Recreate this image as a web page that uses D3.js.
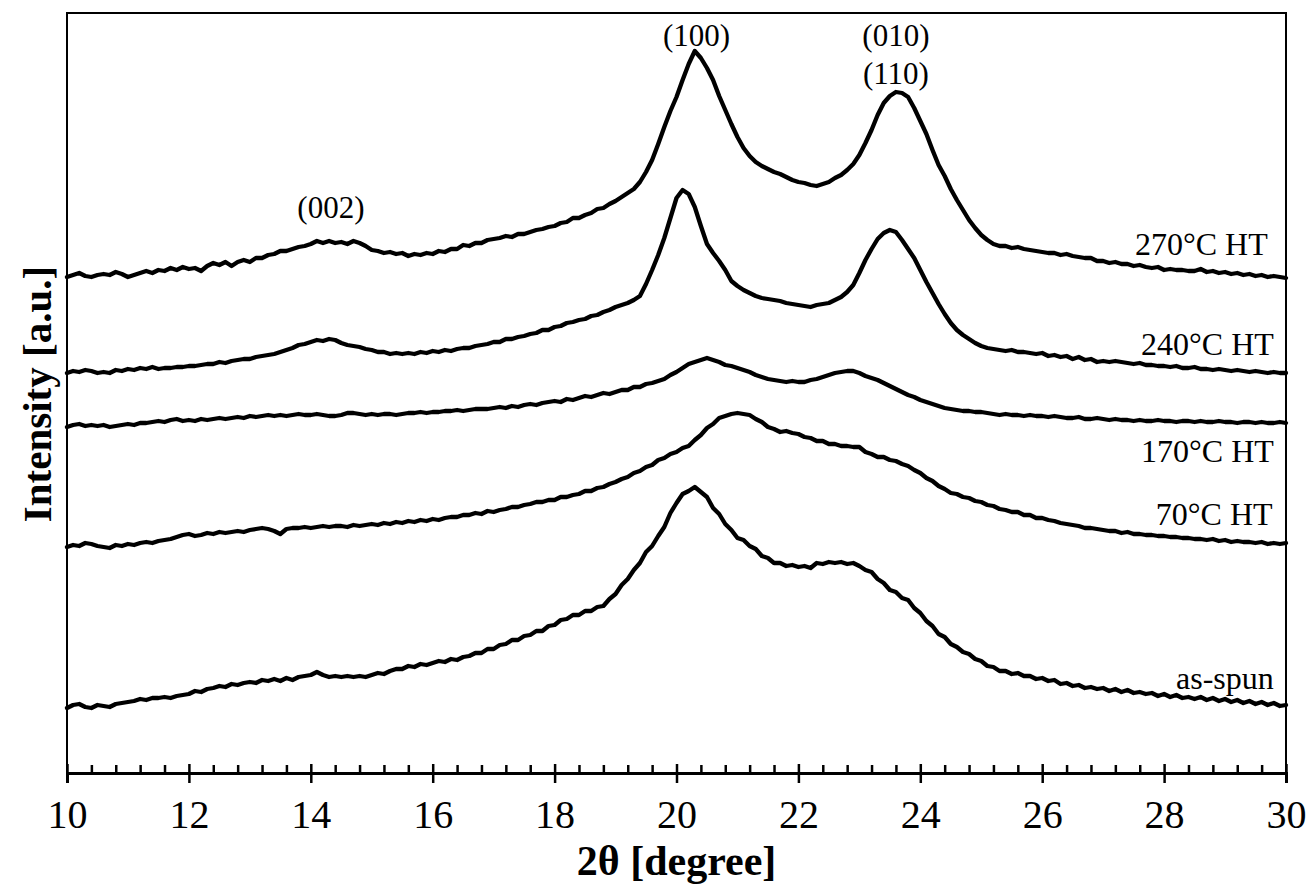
<!DOCTYPE html>
<html>
<head>
<meta charset="utf-8">
<script src="https://cdn.jsdelivr.net/npm/d3@7"></script>
<style>
  html, body { margin: 0; padding: 0; background: #fff; }
  svg { display: block; }
  text { font-family: 'Liberation Serif', 'Times New Roman', serif; fill: #000; }
</style>
</head>
<body>
<div id="chart"></div>
<script>
// 2-theta scan grid (degrees)
const angleStart = 10;
const angleStep = 0.1;

// Intensity [a.u.], curves already stacked, one value per 0.1 degree from 10 to 30
const asSpun = [
  65,68,69,66,65,68,67,66,69,70,
  71,72,74,73,75,75,76,75,77,78,
  79,82,81,84,85,87,86,89,88,90,
  91,90,93,92,94,92,95,93,96,97,
  98,101,98,96,97,96,97,96,97,96,
  98,100,99,102,104,104,107,106,109,108,
  110,112,111,114,113,116,117,120,120,124,
  124,128,129,133,133,137,138,142,142,147,
  148,153,154,158,158,162,162,166,167,174,
  179,188,194,203,210,221,227,237,246,260,
  270,279,282,286,281,276,265,259,249,243,
  235,233,227,224,217,215,210,210,207,208,
  206,207,205,210,209,211,210,211,209,210,
  207,203,201,194,190,183,181,175,173,165,
  160,152,147,139,136,129,126,121,119,114,
  112,107,106,102,102,99,100,97,97,94,
  95,92,93,89,90,87,88,85,86,84,
  85,82,84,81,83,80,81,79,80,77,
  79,76,78,75,76,74,76,73,75,72,
  74,71,73,70,72,69,71,68,70,67,
  68
];

const ht70 = [
  226,228,227,230,229,227,226,225,228,227,
  229,228,230,231,230,232,233,234,236,238,
  239,237,238,240,239,241,240,241,242,241,
  243,244,245,244,242,239,244,245,245,246,
  245,246,247,246,247,247,246,248,247,248,
  249,248,250,249,251,250,252,251,253,252,
  254,253,255,256,256,258,258,260,259,262,
  261,263,264,266,266,268,269,271,271,273,
  273,276,276,278,279,282,282,285,286,289,
  291,294,296,300,302,306,308,313,315,319,
  321,325,327,333,338,345,349,355,357,359,
  360,359,358,354,351,346,344,341,342,340,
  339,336,335,332,332,329,329,327,327,326,
  326,321,319,316,316,313,312,309,307,303,
  300,295,292,287,284,280,279,276,275,272,
  271,268,267,264,263,261,261,258,258,255,
  255,253,252,250,249,248,247,245,245,244,
  243,242,242,240,241,239,239,238,238,237,
  237,236,236,235,235,234,234,233,234,232,
  233,231,232,231,231,230,231,229,230,229,
  230
];

const ht170 = [
  346,348,349,347,348,347,348,346,347,348,
  349,348,350,350,351,352,351,353,354,352,
  353,352,354,353,354,355,354,355,356,355,
  357,356,357,358,357,358,357,358,359,358,
  358,359,358,357,357,358,360,360,359,358,
  359,358,359,359,358,359,360,360,361,360,
  361,361,362,362,363,362,363,364,364,364,
  365,366,365,367,366,368,369,368,370,371,
  372,371,374,373,375,377,376,378,380,379,
  381,383,383,386,386,389,390,392,394,398,
  401,405,409,411,413,415,413,411,408,407,
  405,403,401,398,396,394,393,392,391,392,
  391,391,393,394,396,398,400,401,402,402,
  400,397,395,393,390,387,384,381,378,376,
  373,371,369,367,365,364,363,362,362,361,
  361,360,359,358,359,358,358,357,358,357,
  357,356,357,356,355,355,356,354,354,355,
  354,353,354,353,353,352,353,352,352,353,
  352,352,351,352,352,351,352,351,351,352,
  351,351,350,351,351,350,351,350,350,351,
  350
];

const ht240 = [
  400,402,401,403,402,400,401,400,403,402,
  404,403,405,404,406,404,405,405,406,406,
  407,407,408,409,409,411,410,412,413,414,
  414,416,417,418,419,421,423,425,428,429,
  431,433,432,434,433,430,428,427,426,424,
  423,421,421,419,420,419,420,419,421,420,
  422,421,423,422,424,425,425,427,428,429,
  431,431,434,434,436,437,439,440,443,443,
  446,447,450,451,453,454,457,458,461,463,
  466,468,470,473,477,489,503,518,535,555,
  575,583,579,566,547,529,520,512,503,492,
  487,483,480,477,475,474,473,472,470,469,
  468,467,466,468,469,470,473,476,481,488,
  500,513,524,534,540,543,541,533,524,515,
  503,491,480,469,459,450,443,438,434,430,
  427,425,424,423,422,423,421,421,420,419,
  420,417,418,416,417,414,416,413,414,411,
  412,411,412,411,410,409,410,408,408,407,
  407,406,407,405,405,406,404,404,403,404,
  403,402,403,402,401,402,401,400,401,400,
  400
];

const ht270 = [
  496,498,500,497,496,498,499,498,501,499,
  496,498,500,502,500,503,502,505,503,506,
  504,505,502,507,510,508,511,507,511,513,
  511,515,515,518,519,522,522,524,526,527,
  529,532,530,532,530,531,529,532,530,527,
  523,522,520,521,519,520,517,519,518,520,
  519,522,521,524,524,528,527,530,530,533,
  534,535,537,536,539,539,541,543,544,546,
  547,550,551,555,555,558,560,564,565,569,
  572,576,580,584,591,601,613,629,646,662,
  676,693,709,722,715,705,693,677,663,649,
  636,625,617,611,607,604,601,599,596,593,
  591,590,588,587,589,591,595,598,603,609,
  618,630,643,658,670,677,681,680,676,665,
  652,639,623,608,597,584,573,563,553,545,
  538,533,529,527,527,525,526,524,523,522,
  521,520,520,518,519,517,516,515,515,512,
  512,510,511,509,509,507,508,506,505,506,
  503,504,503,503,502,502,504,501,502,500,
  501,499,500,498,499,497,498,496,497,496,
  495
];

const seriesValues = [asSpun, ht70, ht170, ht240, ht270];
const seriesNames = ['as-spun', '70°C HT', '170°C HT', '240°C HT', '270°C HT'];

// where each sample name sits (2theta of right edge, intensity of baseline)
const nameAnchorX = [29.8, 29.78, 29.8, 29.8, 29.7];
const nameAnchorY = [84, 248, 311, 418, 518];

// reflection labels
const peakNames = ['(002)', '(100)', '(010)', '(110)'];
const peakAngle = [14.33, 20.33, 23.6, 23.6];
const peakLabelY = [555, 727, 727, 689];

const xMajorTicks = [10, 12, 14, 16, 18, 20, 22, 24, 26, 28, 30];

// layout
const width = 1309, height = 884;
const margin = {top: 13, right: 23, bottom: 111, left: 67};

const svg = d3.select('#chart')
  .append('svg')
    .attr('width', width)
    .attr('height', height);

svg.append('rect')
  .attr('width', width)
  .attr('height', height)
  .attr('fill', '#fff');

const x = d3.scaleLinear()
  .domain([10, 30])
  .range([margin.left, width - margin.right]);

const y = d3.scaleLinear()
  .domain([0, 760])
  .range([height - margin.bottom, margin.top]);

// curves
const line = d3.line()
  .x(d => x(d[0]))
  .y(d => y(d[1]));

const curves = seriesValues.map(vals =>
  vals.map((v, i) => [angleStart + i * angleStep, v]));

svg.append('g')
    .attr('class', 'curves')
  .selectAll('path')
  .data(curves)
  .join('path')
    .attr('d', line)
    .attr('fill', 'none')
    .attr('stroke', '#000')
    .attr('stroke-width', 4.3)
    .attr('stroke-linejoin', 'round')
    .attr('stroke-linecap', 'round');

// frame (top, left, right)
svg.append('rect')
  .attr('x', x(10))
  .attr('y', y(760))
  .attr('width', x(30) - x(10))
  .attr('height', y(0) - y(760))
  .attr('fill', 'none')
  .attr('stroke', '#000')
  .attr('stroke-width', 2);

// bottom axis, major ticks cross the line
const xAxis = svg.append('g')
  .attr('transform', `translate(0,${y(0)})`)
  .call(d3.axisBottom(x)
    .tickValues(xMajorTicks)
    .tickSize(10)
    .tickPadding(17)
    .tickFormat(d3.format('d')));

xAxis.select('.domain')
  .attr('stroke-width', 3);

xAxis.selectAll('.tick line')
  .attr('y1', -9)
  .attr('stroke-width', 2.5);

xAxis.selectAll('.tick text')
  .style('font-family', "'Liberation Serif', 'Times New Roman', serif")
  .style('font-size', '40px')
  .attr('fill', '#000');

// minor ticks, inside only
const minorTicks = d3.range(0, 51)
  .filter(i => i % 5 !== 0)
  .map(i => 10 + i * 0.4);

svg.append('g')
  .attr('transform', `translate(0,${y(0)})`)
  .call(d3.axisBottom(x)
    .tickValues(minorTicks)
    .tickSize(-8)
    .tickFormat(''))
  .call(g => g.select('.domain').remove())
  .selectAll('.tick line')
    .attr('stroke-width', 2.5);

// sample names
svg.append('g')
  .selectAll('text')
  .data(seriesNames)
  .join('text')
    .attr('x', (d, i) => x(nameAnchorX[i]))
    .attr('y', (d, i) => y(nameAnchorY[i]))
    .attr('text-anchor', 'end')
    .style('font-size', '32px')
    .text(d => d);

// reflection labels
svg.append('g')
  .selectAll('text')
  .data(peakNames)
  .join('text')
    .attr('x', (d, i) => x(peakAngle[i]))
    .attr('y', (d, i) => y(peakLabelY[i]))
    .attr('text-anchor', 'middle')
    .style('font-size', '31px')
    .text(d => d);

// axis titles
svg.append('text')
  .attr('x', (x(10) + x(30)) / 2)
  .attr('y', 875)
  .attr('text-anchor', 'middle')
  .style('font-size', '42px')
  .style('font-weight', 'bold')
  .text('2θ [degree]');

svg.append('text')
  .attr('transform', `translate(51,${(y(0) + y(760)) / 2 + 1}) rotate(-90)`)
  .attr('text-anchor', 'middle')
  .style('font-size', '41px')
  .style('font-weight', 'bold')
  .text('Intensity [a.u.]');
</script>
</body>
</html>
